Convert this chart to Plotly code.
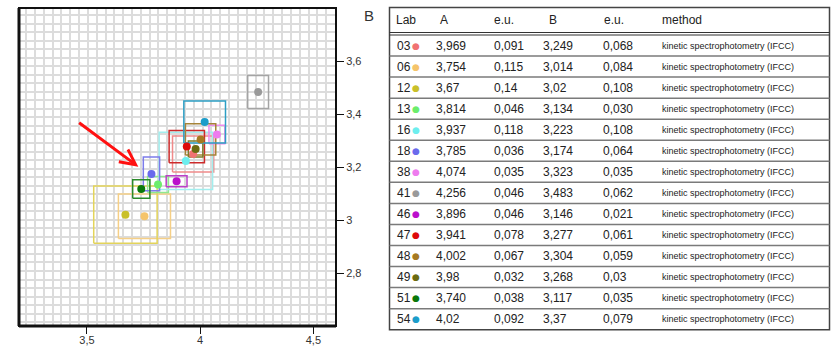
import plotly.graph_objects as go

# Interlaboratory results: lab code, value A with its uncertainty, value B with its uncertainty
labs = ["03", "06", "12", "13", "16", "18", "38", "41", "46", "47", "48", "49", "51", "54"]
a_vals = ["3,969", "3,754", "3,67", "3,814", "3,937", "3,785", "4,074", "4,256", "3,896", "3,941", "4,002", "3,98", "3,740", "4,02"]
a_eu = ["0,091", "0,115", "0,14", "0,046", "0,118", "0,036", "0,035", "0,046", "0,046", "0,078", "0,067", "0,032", "0,038", "0,092"]
b_vals = ["3,249", "3,014", "3,02", "3,134", "3,223", "3,174", "3,323", "3,483", "3,146", "3,277", "3,304", "3,268", "3,117", "3,37"]
b_eu = ["0,068", "0,084", "0,108", "0,030", "0,108", "0,064", "0,035", "0,062", "0,021", "0,061", "0,059", "0,03", "0,035", "0,079"]
methods = ["kinetic spectrophotometry (IFCC)"] * len(labs)

dot_colors = ["#f07272", "#f5c46a", "#c9c02a", "#6ced6c", "#6deeee", "#6a6aec", "#ee7cee", "#9a9a9a",
              "#bb10cc", "#dd0a0a", "#a67a22", "#6b6b10", "#0a780a", "#1c9dca"]
box_colors = ["#f08a8a", "#f5cf86", "#e3d45a", "#8fe88f", "#a2eeee", "#7c7cea", "#ee8cee", "#a4a4a4",
              "#bb3fc8", "#cc2a2a", "#a68438", "#7c7c2a", "#2a8a2a", "#2c9ec4"]

header = ["Lab", "A", "e.u.", "B", "e.u.", "method"]


def num(s):
    return float(s.replace(",", "."))


A = [num(v) for v in a_vals]
EA = [num(v) for v in a_eu]
B = [num(v) for v in b_vals]
EB = [num(v) for v in b_eu]

fig = go.Figure()

# uncertainty rectangles (A ± e.u., B ± e.u.)
for i, lab in enumerate(labs):
    fig.add_trace(go.Scatter(
        x=[A[i] - EA[i], A[i] + EA[i], A[i] + EA[i], A[i] - EA[i], A[i] - EA[i]],
        y=[B[i] - EB[i], B[i] - EB[i], B[i] + EB[i], B[i] + EB[i], B[i] - EB[i]],
        mode="lines", line=dict(color=box_colors[i], width=1.5),
        hoverinfo="skip", showlegend=False))

# lab results
fig.add_trace(go.Scatter(
    x=A, y=B, mode="markers", text=labs,
    marker=dict(color=dot_colors, size=8, line=dict(width=0)),
    showlegend=False))

W, H = 835, 346
PL, PR, PT, PB = 19, 336, 8, 326  # plot area edges in pixels


def px(x):
    return (x - PL) / (PR - PL)


def py(y):
    return (PB - y) / (PB - PT)


# table geometry (pixels)
t_left, t_right, t_top = 389.5, 829.5, 7.5
head_bottom = 35.0
row_h = 21.05
n = len(labs)
t_bottom = head_bottom + row_h * n
col_x = [395, 433.5, 492, 541, 601, 660]
head_x = [394, 438, 492, 546.5, 602, 660]
txt_col = "#222222"
body_font = "Liberation Sans, Arial, sans-serif"

annotations = []
for j, h in enumerate(header):
    annotations.append(dict(x=px(head_x[j]), y=py(20), xref="paper", yref="paper", text=h,
                            showarrow=False, xanchor="left", yanchor="middle",
                            font=dict(family=body_font, size=12, color=txt_col)))

for i in range(n):
    yc = py(head_bottom + row_h * (i + 0.5))
    cells = [labs[i], a_vals[i], a_eu[i], b_vals[i], b_eu[i]]
    for j, c in enumerate(cells):
        annotations.append(dict(x=px(col_x[j]), y=yc, xref="paper", yref="paper", text=c,
                                showarrow=False, xanchor="left", yanchor="middle",
                                font=dict(family=body_font, size=12, color=txt_col)))
    annotations.append(dict(x=px(416), y=yc, xref="paper", yref="paper", text="\u25cf",
                            showarrow=False, xanchor="center", yanchor="middle",
                            font=dict(family="DejaVu Sans, sans-serif", size=9, color=dot_colors[i])))
    annotations.append(dict(x=px(col_x[5]), y=yc, xref="paper", yref="paper", text=methods[i],
                            showarrow=False, xanchor="left", yanchor="middle",
                            font=dict(family="Liberation Sans Narrow, Arial Narrow, sans-serif",
                                      size=9, color=txt_col)))

# panel letter
annotations.append(dict(x=px(362), y=py(16), xref="paper", yref="paper", text="B", showarrow=False,
                        xanchor="left", yanchor="middle",
                        font=dict(family=body_font, size=15, color="#333333")))

# pointer arrow
annotations.append(dict(x=3.727, y=3.201, ax=3.459, ay=3.371, xref="x", yref="y", axref="x", ayref="y",
                        text="", showarrow=True, arrowhead=5, arrowsize=1, arrowwidth=3,
                        arrowcolor="#ff1010", standoff=0))

shapes = []
# plot frame: thin top/right, heavy left/bottom
shapes.append(dict(type="rect", xref="x domain", yref="y domain", x0=0, x1=1, y0=0, y1=1,
                   line=dict(color="#111111", width=2), layer="above"))
shapes.append(dict(type="line", xref="x domain", yref="y domain", x0=0, x1=0, y0=0, y1=1,
                   line=dict(color="#111111", width=3), layer="above"))
shapes.append(dict(type="line", xref="x domain", yref="y domain", x0=0, x1=1, y0=0, y1=0,
                   line=dict(color="#111111", width=3), layer="above"))

# table rules
shapes.append(dict(type="rect", xref="paper", yref="paper", x0=px(t_left), x1=px(t_right),
                   y0=py(t_bottom), y1=py(t_top), line=dict(color="#444444", width=1.5)))
for yy in (head_bottom - 2.5, head_bottom):
    shapes.append(dict(type="line", xref="paper", yref="paper", x0=px(t_left), x1=px(t_right),
                       y0=py(yy), y1=py(yy), line=dict(color="#333333", width=1)))
for k in range(1, n):
    yy = head_bottom + row_h * k
    shapes.append(dict(type="line", xref="paper", yref="paper", x0=px(t_left), x1=px(t_right),
                       y0=py(yy), y1=py(yy), line=dict(color="#7a7a7a", width=1.5)))

tickfont = dict(family=body_font, size=11, color="#333333")

fig.update_layout(
    width=W, height=H,
    margin=dict(l=PL, r=W - PR, t=PT, b=H - PB, pad=0),
    paper_bgcolor="white", plot_bgcolor="white",
    showlegend=False,
    annotations=annotations,
    shapes=shapes,
    xaxis=dict(range=[3.2, 4.6], tickvals=[3.5, 4, 4.5], ticktext=["3,5", "4", "4,5"],
               ticks="outside", ticklen=7, tickwidth=1, tickcolor="#111111",
               showgrid=False, zeroline=False, showline=False, automargin=False,
               tickfont=tickfont, ticklabelstandoff=-3,
               minor=dict(tick0=3.231, dtick=0.039, showgrid=True, gridcolor="#dcdcdc", gridwidth=2, ticks="")),
    yaxis=dict(range=[2.6, 3.8], side="right", tickvals=[2.8, 3, 3.2, 3.4, 3.6],
               ticktext=["2,8", "3", "3,2", "3,4", "3,6"],
               ticks="outside", ticklen=7, tickwidth=1, tickcolor="#111111",
               showgrid=False, zeroline=False, showline=False, automargin=False,
               tickfont=tickfont,
               minor=dict(tick0=3.7735, dtick=0.0322, showgrid=True, gridcolor="#dcdcdc", gridwidth=2, ticks="")),
)

fig.write_html("out.html")
